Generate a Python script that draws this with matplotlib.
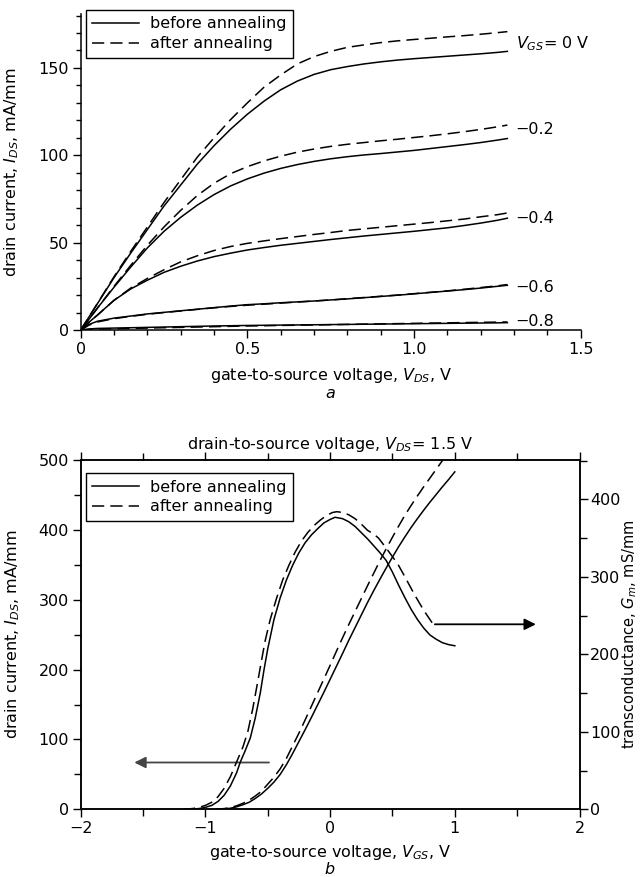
import numpy as np
import matplotlib
matplotlib.use("Agg")
import matplotlib.pyplot as plt
from matplotlib.ticker import MultipleLocator
from matplotlib.lines import Line2D

plt.rcParams['font.family'] = ['DejaVu Sans']
plt.rcParams['mathtext.fontset'] = 'dejavusans'
FS = 11.5
plt.rcParams['font.size'] = FS
plt.rcParams['axes.linewidth'] = 1.1

# ---------------- panel a data ----------------
vds = [0, 0.025, 0.05, 0.1, 0.15, 0.2, 0.25, 0.3, 0.35, 0.4, 0.45, 0.5, 0.55, 0.6,
       0.65, 0.7, 0.75, 0.8, 0.85, 0.9, 0.95, 1.0, 1.05, 1.1, 1.15, 1.2, 1.25, 1.28]
ids_before_0 = [0, 7.5, 15, 30, 44, 57.5, 71, 83, 95, 105.5, 115, 123.5, 131, 137.5,
                142.5, 146.3, 149, 150.8, 152.3, 153.5, 154.5, 155.3, 156, 156.7, 157.4, 158.1, 158.9, 159.5]
ids_after_0 = [0, 7.5, 15.2, 30.5, 45, 59, 73, 86, 99, 110, 120.5, 130, 139, 146,
               152.3, 156.5, 159.5, 161.8, 163.2, 164.5, 165.5, 166.3, 167, 167.8, 168.5, 169.3, 170.2, 170.8]
ids_before_02 = [0, 6.2, 12.5, 24.5, 36, 47, 56.5, 64.5, 71.5, 77.5, 82.5, 86.5, 89.8, 92.5,
                 94.7, 96.5, 98, 99.2, 100.2, 101, 101.9, 102.8, 103.9, 105, 106.1, 107.3, 108.7, 109.6]
ids_after_02 = [0, 6.2, 12.5, 25, 37, 48.5, 59, 68.5, 77, 84, 89.5, 93.5, 96.8, 99.5,
                101.8, 103.6, 105.1, 106.3, 107.3, 108.3, 109.2, 110.2, 111.2, 112.3, 113.5, 114.8, 116.3, 117.3]
ids_before_04 = [0, 4.5, 8.5, 17, 23.5, 28.5, 33, 36.5, 39.5, 42, 44, 45.8, 47.2, 48.5,
                 49.6, 50.7, 51.8, 52.8, 53.8, 54.7, 55.6, 56.5, 57.5, 58.5, 59.8, 61.2, 62.8, 64]
ids_after_04 = [0, 4.5, 8.5, 17, 24, 29.5, 34.5, 39, 42.5, 45.5, 47.8, 49.6, 51, 52.3,
                53.5, 54.7, 55.8, 57, 57.9, 58.8, 59.7, 60.6, 61.5, 62.5, 63.5, 64.8, 66, 67]
ids_before_06 = [0, 3.2, 5, 6.8, 8, 9.2, 10.1, 11, 11.9, 12.8, 13.7, 14.5, 15, 15.6,
                 16.1, 16.6, 17.2, 17.8, 18.5, 19.2, 19.9, 20.7, 21.5, 22.3, 23.1, 24, 25, 25.6]
ids_after_06 = [0, 2.8, 4.6, 6.5, 7.8, 9, 10, 10.9, 11.8, 12.7, 13.5, 14.2, 14.8, 15.4,
                16, 16.6, 17.2, 17.9, 18.6, 19.3, 20, 20.8, 21.6, 22.4, 23.3, 24.3, 25.3, 26]
ids_before_08 = [0, 0.6, 0.9, 1.1, 1.3, 1.5, 1.7, 1.9, 2.1, 2.3, 2.45, 2.6, 2.7, 2.8,
                 2.9, 3.0, 3.1, 3.2, 3.3, 3.4, 3.5, 3.6, 3.7, 3.8, 3.9, 4.0, 4.1, 4.2]
ids_after_08 = [0, 0.3, 0.5, 0.7, 0.9, 1.1, 1.3, 1.5, 1.7, 1.9, 2.1, 2.3, 2.45, 2.6,
                2.75, 2.9, 3.05, 3.2, 3.35, 3.5, 3.65, 3.8, 3.95, 4.1, 4.25, 4.4, 4.5, 4.6]
vgs_labels = [r'$V_{GS}$= 0 V', '\u22120.2', '\u22120.4', '\u22120.6', '\u22120.8']
vgs_label_y = [164, 114.6, 64, 24.2, 5]

# ---------------- panel b data ----------------
vgs_id_before = [-0.9, -0.85, -0.8, -0.75, -0.7, -0.65, -0.6, -0.55, -0.5, -0.45, -0.4, -0.35,
                 -0.3, -0.25, -0.2, -0.15, -0.1, -0.05, 0, 0.05, 0.1, 0.15, 0.2, 0.25, 0.3,
                 0.35, 0.4, 0.45, 0.5, 0.55, 0.6, 0.65, 0.7, 0.75, 0.8, 0.85, 0.9, 0.95, 1.0]
id_before = [0, 0.5, 1.5, 3.5, 6.5, 10, 15.5, 22, 30, 39, 50, 64,
             80, 97, 114, 131.5, 149.5, 167.5, 186, 204.5, 223, 242, 260, 278, 296,
             313, 329.5, 345.5, 361, 376, 390, 403.5, 416, 428, 439.5, 450.5, 461.5, 472, 483]
vgs_id_after = [-0.92, -0.85, -0.8, -0.75, -0.7, -0.65, -0.6, -0.55, -0.5, -0.45, -0.4, -0.35,
                -0.3, -0.25, -0.2, -0.15, -0.1, -0.05, 0, 0.05, 0.1, 0.15, 0.2, 0.25, 0.3,
                0.35, 0.4, 0.45, 0.5, 0.55, 0.6, 0.65, 0.7, 0.75, 0.8, 0.85, 0.9, 0.905]
id_after = [0, 1, 2.5, 5, 8.5, 13, 19, 26, 36, 46, 58, 73,
            91, 109, 128, 147.5, 167, 186.5, 206, 226, 245.5, 264.5, 283, 301.5, 320,
            338, 356, 373, 389.5, 405.5, 421, 435, 448.5, 461.5, 474, 486.5, 499, 500]

vgs_gm_before = [-1.15, -1.1, -1.05, -1.0, -0.95, -0.9, -0.85, -0.8, -0.75, -0.72, -0.68, -0.64,
                 -0.6, -0.56, -0.53, -0.5, -0.45, -0.4, -0.35, -0.3, -0.25, -0.2, -0.15, -0.1,
                 -0.05, 0, 0.04, 0.1, 0.15, 0.2, 0.25, 0.3, 0.35, 0.4, 0.45, 0.5, 0.55, 0.6,
                 0.65, 0.7, 0.75, 0.8, 0.85, 0.9, 0.95, 1.0]
gm_before = [0, 0.3, 1, 2.5, 5, 10, 18, 30, 47, 61, 76, 92,
             118, 150, 180, 207, 245, 273, 296, 315, 331, 344, 354, 362,
             369.5, 374, 376.8, 375, 371, 365, 357, 349, 340, 331, 321, 306, 289, 273,
             258, 245, 234, 225, 219.5, 215, 212.5, 211]
vgs_gm_after = [-1.18, -1.1, -1.05, -1.0, -0.95, -0.9, -0.85, -0.8, -0.75, -0.7, -0.66, -0.62,
                -0.58, -0.55, -0.52, -0.48, -0.43, -0.38, -0.33, -0.28, -0.23, -0.18, -0.13,
                -0.08, -0.03, 0.02, 0.054, 0.1, 0.15, 0.2, 0.25, 0.3, 0.35, 0.388, 0.45, 0.5,
                0.548, 0.6, 0.65, 0.695, 0.75, 0.8, 0.83]
gm_after = [0, 1, 2.5, 5, 9, 16, 27, 42, 61, 80, 100, 130,
            165, 192, 218, 245, 272, 296, 315, 332, 346, 357, 366,
            373, 379, 383, 384, 383, 380, 375, 368, 360, 355, 350, 337, 326,
            315, 300, 285, 272, 257, 245, 238]

fig = plt.figure(figsize=(6.43, 8.77), dpi=100)
LW = 1.1
dash = (8, 4)

def style_ticks(ax, mlen=5.5, nlen=4.0):
    ax.tick_params(which='major', direction='out', length=mlen, width=1.0, pad=3)
    ax.tick_params(which='minor', direction='out', length=nlen, width=1.0)

# ================= panel a =================
ax1 = fig.add_axes([80.7/643, 1-330/877, 500/643, (330-13.8)/877])
for yb, ya in [(ids_before_0, ids_after_0), (ids_before_02, ids_after_02),
               (ids_before_04, ids_after_04), (ids_before_06, ids_after_06),
               (ids_before_08, ids_after_08)]:
    ax1.plot(vds, yb, color='black', lw=LW)
    ax1.plot(vds, ya, color='black', lw=LW, ls=(0, dash))
ax1.set_xlim(0, 1.5)
ax1.set_ylim(0, 181)
for s in ['top', 'right']:
    ax1.spines[s].set_visible(False)
ax1.set_xticks([0, 0.5, 1.0, 1.5])
ax1.set_xticklabels(['0', '0.5', '1.0', '1.5'])
ax1.xaxis.set_minor_locator(MultipleLocator(0.1))
ax1.yaxis.set_major_locator(MultipleLocator(50))
ax1.yaxis.set_minor_locator(MultipleLocator(10))
style_ticks(ax1, 5.5, 3.8)
for lab, yv in zip(vgs_labels, vgs_label_y):
    ax1.text(1.305, yv, lab, ha='left', va='center')
ax1.set_ylabel(r'drain current, $I_{DS}$, mA/mm')
ax1.yaxis.set_label_coords(-(80.7-21)/500, 0.5)
fig.text(330.7/643, 1-376/877, r'gate-to-source voltage, $V_{DS}$, V', ha='center', va='center')
fig.text(330.7/643, 1-394/877, r'$a$', ha='center', va='center')

h = [Line2D([], [], color='black', lw=LW), Line2D([], [], color='black', lw=LW, ls=(0, dash))]
leg_kw = dict(loc='upper left', frameon=True, fancybox=False, edgecolor='black',
              framealpha=1, handlelength=2.9, handletextpad=0.7, borderpad=0.4,
              labelspacing=0.3, borderaxespad=0)
l1 = ax1.legend(h, ['before annealing', 'after annealing'],
                bbox_to_anchor=((86-80.7)/500, (330-10)/(330-13.8)), **leg_kw)
l1.get_frame().set_linewidth(1.0)

# ================= panel b =================
ax2 = fig.add_axes([80.7/643, 1-809.3/877, 498.8/643, (809.3-460)/877])
ax3 = ax2.twinx()
ax2.plot(vgs_id_before, id_before, color='black', lw=LW)
ax2.plot(vgs_id_after, id_after, color='black', lw=LW, ls=(0, dash))
ax3.plot(vgs_gm_before, gm_before, color='black', lw=LW)
ax3.plot(vgs_gm_after, gm_after, color='black', lw=LW, ls=(0, dash))
ax2.set_xlim(-2, 2)
ax2.set_ylim(0, 500)
ax3.set_ylim(0, 450.7)
ax2.xaxis.set_major_locator(MultipleLocator(1))
ax2.xaxis.set_minor_locator(MultipleLocator(0.5))
ax2.yaxis.set_major_locator(MultipleLocator(100))
ax2.yaxis.set_minor_locator(MultipleLocator(50))
ax3.yaxis.set_major_locator(MultipleLocator(100))
ax3.yaxis.set_minor_locator(MultipleLocator(50))
style_ticks(ax2, 5.5, 5.0)
style_ticks(ax3, 5.5, 5.0)
ax3.tick_params(which='major', pad=2)
ax2.tick_params(which='both', top=True)
ax2.set_ylabel(r'drain current, $I_{DS}$, mA/mm')
ax2.yaxis.set_label_coords(-(80.7-22)/498.8, 0.5)
ax3.set_ylabel(r'transconductance, $G_m$, mS/mm', fontsize=10.5, va='center', rotation=90)
ax3.yaxis.set_label_coords(1 + (630-579.5)/498.8, 0.5)
fig.text(330/643, 1-444/877, r'drain-to-source voltage, $V_{DS}$= 1.5 V', ha='center', va='center')
fig.text(330/643, 1-853/877, r'gate-to-source voltage, $V_{GS}$, V', ha='center', va='center')
fig.text(330/643, 1-869/877, r'$b$', ha='center', va='center')
l2 = ax2.legend(h, ['before annealing', 'after annealing'],
                bbox_to_anchor=((86-80.7)/498.8, (809.3-473.3)/(809.3-460)), **leg_kw)
l2.get_frame().set_linewidth(1.0)

# arrows
ax2.annotate('', xy=(-1.57, 67), xytext=(-0.49, 67),
             arrowprops=dict(arrowstyle='-|>', color='#444444', lw=1.3,
                             mutation_scale=17, shrinkA=0, shrinkB=0))
ax3.annotate('', xy=(1.65, 238.7), xytext=(0.84, 238.7),
             arrowprops=dict(arrowstyle='-|>', color='black', lw=1.3,
                             mutation_scale=17, shrinkA=0, shrinkB=0))

fig.savefig('out.png', dpi=100)
